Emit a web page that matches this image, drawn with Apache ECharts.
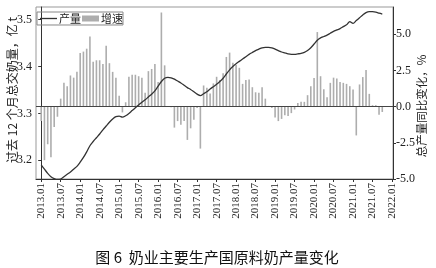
<!DOCTYPE html>
<html><head><meta charset="utf-8">
<script src="https://cdn.jsdelivr.net/npm/echarts@6/dist/echarts.min.js"></script>
<style>html,body{margin:0;padding:0;background:#fff}#c{width:436px;height:268px}</style>
</head><body><div id="c"></div>
<script>
// first month of the series
const startYear = 2013;
// x tick labels
const tickLabels = ['2013.01','2013.07','2014.01','2014.07','2015.01','2015.07','2016.01','2016.07','2017.01','2017.07','2018.01','2018.07','2019.01','2019.07','2020.01','2020.07','2021.01','2021.07','2022.01'];
// left axis ticks (亿 t) and right axis ticks (%)
const leftTicks = [3.2, 3.3, 3.4, 3.5];
const rightTicks = [-5, -2.5, 0, 2.5, 5];
// monthly YoY change of total output, %, 2013.01 - 2021.10
const growth = [-1.0,-3.7,-2.6,-3.5,-1.4,-0.7,0.55,1.65,1.4,2.15,2.0,2.4,
 3.7,3.8,4.0,4.85,3.1,3.2,3.2,2.95,4.2,3.0,2.4,2.0,
 0.75,-0.4,0.3,2.06,2.2,2.2,2.1,2.0,0.95,2.45,2.6,2.95,
 1.7,6.5,2.85,0.05,-0.05,-1.45,-1.0,-1.25,-1.0,-2.3,-1.5,-0.9,
 -0.1,-2.9,1.46,1.3,0.9,1.6,2.06,1.83,2.3,3.43,3.73,3.03,
 2.87,2.68,1.57,1.83,1.87,1.34,0.99,0.95,1.34,0.55,0.05,-0.1,
 -0.75,-1.0,-0.85,-0.6,-0.65,-0.45,-0.2,0.25,0.33,0.33,0.79,1.41,
 1.97,5.15,2.1,1.2,0.65,1.64,2.0,1.94,1.7,1.64,1.57,1.41,
 1.18,-1.99,1.53,2.04,2.52,0.88,0.1,0.1,-0.56,-0.37];
// past-12-month total milk delivery, 亿 t, 2013.01 - 2021.10
const output = [3.190,3.181,3.172,3.165,3.161,3.159,3.160,3.165,3.170,3.175,3.181,3.187,
 3.196,3.206,3.218,3.231,3.240,3.248,3.256,3.265,3.273,3.281,3.288,3.293,
 3.294,3.292,3.295,3.300,3.306,3.312,3.318,3.324,3.329,3.335,3.341,3.348,
 3.358,3.368,3.375,3.377,3.376,3.373,3.369,3.365,3.360,3.355,3.351,3.346,
 3.341,3.338,3.342,3.346,3.352,3.357,3.362,3.368,3.375,3.384,3.393,3.400,
 3.406,3.411,3.416,3.421,3.426,3.430,3.434,3.437,3.440,3.441,3.441,3.440,
 3.437,3.434,3.431,3.429,3.427,3.426,3.426,3.427,3.428,3.430,3.434,3.440,
 3.448,3.456,3.461,3.464,3.467,3.471,3.475,3.478,3.481,3.485,3.489,3.496,
 3.492,3.498,3.504,3.510,3.515,3.517,3.517,3.516,3.514,3.512];

function monthIndex(label){const p=label.split('.').map(Number);return (p[0]-startYear)*12+(p[1]-1);}
const tickPos = tickLabels.map(monthIndex);
const labelByPos = {}; tickLabels.forEach((l,i)=>{labelByPos[tickPos[i]]=l;});

const serif = 'Liberation Serif';
const cjk = 'Noto Sans CJK SC';
const chart = echarts.init(document.getElementById('c'), null, {renderer:'canvas'});
chart.setOption({
  animation:false,
  backgroundColor:'#fff',
  grid:{left:36,right:43,top:7,bottom:89,show:true,borderColor:'#999',borderWidth:1,backgroundColor:'transparent',containLabel:false},
  legend:{left:37,top:12,orient:'horizontal',borderColor:'#888',borderWidth:1,padding:[1,0,1,3],itemGap:1,itemWidth:17,itemHeight:6,
    textStyle:{fontFamily:cjk,fontSize:11,color:'#222',padding:[0,0,0,-3]},
    data:[{name:'产量',icon:'path://M0,0L18,0L18,1.4L0,1.4Z',itemStyle:{color:'#333'}},{name:'增速',icon:'rect',itemStyle:{color:'#adadad'}}]},
  xAxis:{type:'value',min:-1.6,max:108.3,
    axisLine:{show:true,onZero:false,lineStyle:{color:'#333',width:1}},
    axisTick:{show:true,customValues:tickPos,length:3,lineStyle:{color:'#333'}},
    axisLabel:{customValues:tickPos,rotate:90,margin:4,fontFamily:serif,fontSize:11,color:'#222',formatter:v=>labelByPos[v]||''},
    splitLine:{show:false}},
  yAxis:[
    {type:'value',min:3.16,max:3.527,position:'left',
     axisLine:{show:true,lineStyle:{color:'#333',width:1}},
     axisTick:{show:true,customValues:leftTicks,length:3,lineStyle:{color:'#333'}},
     axisLabel:{customValues:leftTicks,margin:4,fontFamily:serif,fontSize:12,color:'#222',formatter:v=>v.toFixed(1)},
     splitLine:{show:false}},
    {type:'value',min:-5,max:6.88,position:'right',
     axisLine:{show:true,lineStyle:{color:'#333',width:1}},
     axisTick:{show:true,customValues:rightTicks,length:3,lineStyle:{color:'#333'}},
     axisLabel:{customValues:rightTicks,margin:3,fontFamily:serif,fontSize:12,color:'#222',formatter:v=>v.toFixed(1)},
     splitLine:{show:false}}
  ],
  series:[
    {name:'增速',type:'bar',yAxisIndex:1,barWidth:1.6,itemStyle:{color:'#adadad'},
     data:growth.map((v,i)=>[i,v]),
     markLine:{silent:true,symbol:'none',label:{show:false},lineStyle:{color:'#444',width:1,type:'solid'},data:[{yAxis:0}]}},
    {name:'产量',type:'line',yAxisIndex:0,symbol:'none',smooth:0.3,z:5,lineStyle:{color:'#333',width:1.3},
     data:output.map((v,i)=>[i,v])}
  ],
  graphic:[
    {type:'text',x:12,y:90,rotation:Math.PI/2,style:{text:'过去 12 个月总交奶量，亿 t',fontFamily:cjk,fontSize:12,fill:'#222',align:'center',verticalAlign:'middle'}},
    {type:'text',x:422,y:106,rotation:Math.PI/2,style:{text:'总产量同比变化，%',fontFamily:cjk,fontSize:11.5,fill:'#222',align:'center',verticalAlign:'middle'}},
    {type:'text',x:217,y:257,style:{text:'图 6  奶业主要生产国原料奶产量变化',fontFamily:cjk,fontSize:15,fontWeight:'normal',fill:'#111',align:'center',verticalAlign:'middle'}}
  ]
});
</script></body></html>
